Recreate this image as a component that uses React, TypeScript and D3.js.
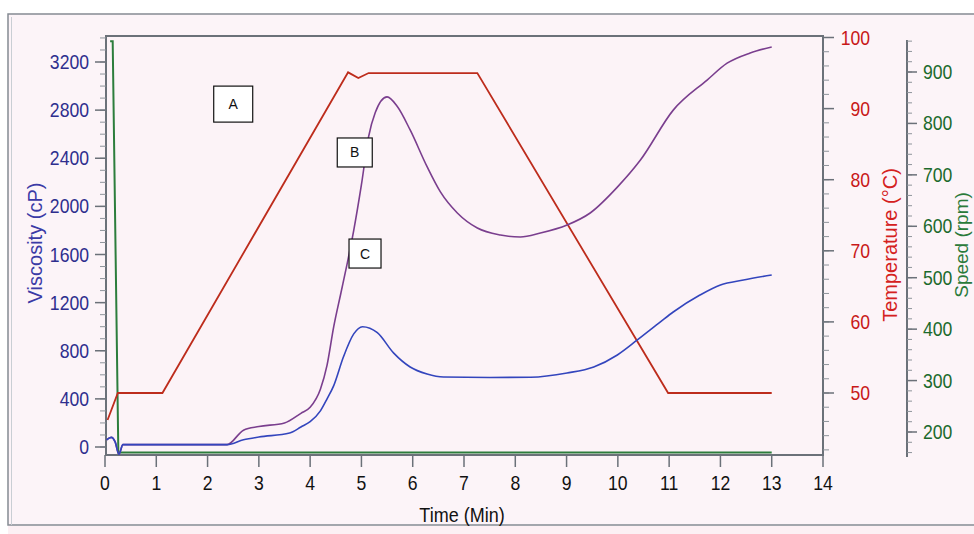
import React from 'react'
import * as d3 from 'd3'

// time axis (min)
const timeTicks = d3.range(0, 15)

// temperature profile (°C)
const tempTime = [0.05, 0.25, 1.12, 4.74, 4.94, 5.14, 7.26, 10.98, 13.0]
const tempValues = [46.2, 50, 50, 95.1, 94.3, 95, 95, 50, 50]

// viscosity curve B (cP)
const viscBTime = [0.03, 0.12, 0.2, 0.27, 0.35, 1.0, 2.0, 2.38, 2.7, 3.0, 3.5, 3.82, 4.0, 4.2, 4.33, 4.46, 4.6, 4.72, 4.85, 5.0, 5.14, 5.27, 5.5, 5.7, 5.95, 6.28, 6.54, 6.87, 7.26, 7.71, 8.1, 8.49, 9.01, 9.46, 9.99, 10.44, 11.08, 11.74, 12.13, 12.58, 13.0]
const viscBValues = [60, 80, 40, -60, 20, 20, 20, 20, 140, 170, 200, 280, 330, 480, 680, 1000, 1280, 1520, 1800, 2180, 2580, 2780, 2910, 2830, 2635, 2330, 2120, 1945, 1820, 1762, 1745, 1778, 1845, 1945, 2160, 2385, 2800, 3050, 3190, 3275, 3325]

// viscosity curve C (cP)
const viscCTime = [0.03, 0.12, 0.2, 0.27, 0.35, 2.0, 2.38, 2.7, 3.0, 3.6, 3.82, 4.0, 4.2, 4.33, 4.46, 4.65, 4.85, 5.02, 5.31, 5.63, 5.95, 6.28, 6.6, 7.5, 8.3, 9.01, 9.53, 9.99, 10.38, 10.83, 11.08, 11.6, 12.0, 12.45, 13.0]
const viscCValues = [60, 80, 40, -60, 20, 20, 20, 60, 83, 116, 166, 210, 300, 400, 510, 750, 940, 1000, 950, 780, 665, 607, 582, 578, 580, 615, 665, 765, 890, 1040, 1122, 1263, 1347, 1388, 1430]

// stirring speed (rpm)
const speedTime = [0.1, 0.15, 0.26, 13.0]
const speedValues = [960, 960, 160, 160]

const viscTicks = [0, 400, 800, 1200, 1600, 2000, 2400, 2800, 3200]
const tempTicks = [50, 60, 70, 80, 90, 100]
const speedTicks = [200, 300, 400, 500, 600, 700, 800, 900]

// annotation boxes (time, viscosity)
const notes = [
    {label: 'A', t: 2.5, v: 2850, w: 39, h: 36},
    {label: 'B', t: 4.87, v: 2448, w: 35, h: 29},
    {label: 'C', t: 5.07, v: 1608, w: 32, h: 29},
]

const W = 974
const H = 534
const plot = {left: 106, top: 36, right: 823, bottom: 455}
const speedAxisX = 907

const font = '"Liberation Sans", Arial, sans-serif'
const axisGray = '#6b7179'

export default function App() {
    const x = d3.scaleLinear().domain([0, 14]).range([105, 823])
    const yVisc = d3.scaleLinear().domain([0, 3200]).range([447, 62])
    const yTemp = d3.scaleLinear().domain([50, 100]).range([393, 37.5])
    const ySpeed = d3.scaleLinear().domain([200, 900]).range([432, 72])

    const inPlot = (y: number) => y >= plot.top - 1 && y <= plot.bottom + 1

    const viscMinor = d3.range(-100, 3500, 100).filter(v => inPlot(yVisc(v)))
    const tempMinor = d3.range(42, 101, 2).filter(v => inPlot(yTemp(v)))
    const speedMinor = d3.range(160, 961, 20).filter(v => ySpeed(v) >= 40 && ySpeed(v) <= 457)

    const curve = (ts: number[], vs: number[], y: d3.ScaleLinear<number, number>, smooth: boolean) => {
        const line = d3.line<number>()
            .x(i => x(ts[i]))
            .y(i => y(vs[i]))
            .curve(smooth ? d3.curveMonotoneX : d3.curveLinear)
        return line(d3.range(ts.length)) || ''
    }

    const tickText = (tx: number, ty: number, s: string, color: string, anchor: string) => (
        <text key={s + tx + ty} transform={`translate(${tx},${ty}) scale(0.88,1)`}
            textAnchor={anchor} fill={color} fontSize={20} fontFamily={font}>{s}</text>
    )

    return (
        <svg width={W} height={H} style={{position: 'absolute', left: 0, top: 0}}>
            <rect x={0} y={0} width={W} height={H} fill="#ffffff" />
            <rect x={8} y={14} width={W + 10} height={511} fill="#fcf4f8" stroke="#858b93" strokeWidth={1.5} />
            <line x1={11.5} y1={17} x2={11.5} y2={525} stroke="#c9ced4" strokeWidth={1} />
            <rect x={8} y={526} width={W} height={8} fill="#fcf0f4" />

            {/* plot frame */}
            <rect x={plot.left} y={plot.top} width={plot.right - plot.left} height={plot.bottom - plot.top}
                fill="#fcf3f7" stroke={axisGray} strokeWidth={2} />

            {/* left axis: viscosity */}
            {viscMinor.map(v => (
                <line key={'vm' + v} x1={plot.left - 6} x2={plot.left} y1={yVisc(v)} y2={yVisc(v)} stroke="#8e949b" strokeWidth={1} />
            ))}
            {viscTicks.map(v => (
                <g key={'vt' + v}>
                    <line x1={plot.left - 11} x2={plot.left} y1={yVisc(v)} y2={yVisc(v)} stroke={axisGray} strokeWidth={1.5} />
                    {tickText(89, yVisc(v) + 7, String(v), '#2e2e8e', 'end')}
                </g>
            ))}
            <text transform="translate(42,243) rotate(-90)" textAnchor="middle" fill="#3a3aa6"
                fontSize={20} fontFamily={font}>Viscosity (cP)</text>

            {/* bottom axis: time */}
            {timeTicks.map(t => (
                <g key={'tt' + t}>
                    <line x1={x(t)} x2={x(t)} y1={plot.bottom} y2={plot.bottom + 12} stroke={axisGray} strokeWidth={1.5} />
                    {tickText(x(t), 490, String(t), '#111111', 'middle')}
                </g>
            ))}
            <text transform="translate(462,522) scale(0.9,1)" textAnchor="middle" fill="#111111"
                fontSize={20} fontFamily={font}>Time  (Min)</text>

            {/* right axis: temperature */}
            {tempMinor.map(v => (
                <line key={'tm' + v} x1={plot.right} x2={plot.right + 6} y1={yTemp(v)} y2={yTemp(v)} stroke="#8e949b" strokeWidth={1} />
            ))}
            {tempTicks.map(v => (
                <g key={'tp' + v}>
                    <line x1={plot.right} x2={plot.right + 11} y1={yTemp(v)} y2={yTemp(v)} stroke={axisGray} strokeWidth={1.5} />
                    {tickText(870, yTemp(v) + 7, String(v), '#c81818', 'end')}
                </g>
            ))}
            <text transform="translate(897,245) rotate(-90)" textAnchor="middle" fill="#d42020"
                fontSize={20} fontFamily={font}>Temperature (°C)</text>

            {/* far right axis: speed */}
            <line x1={speedAxisX} x2={speedAxisX} y1={40} y2={457} stroke={axisGray} strokeWidth={2} />
            {speedMinor.map(v => (
                <line key={'sm' + v} x1={speedAxisX} x2={speedAxisX + 5} y1={ySpeed(v)} y2={ySpeed(v)} stroke="#8e949b" strokeWidth={1} />
            ))}
            {speedTicks.map(v => (
                <g key={'sp' + v}>
                    <line x1={speedAxisX} x2={speedAxisX + 10} y1={ySpeed(v)} y2={ySpeed(v)} stroke={axisGray} strokeWidth={1.5} />
                    {tickText(923, ySpeed(v) + 7, String(v), '#1b6a2c', 'start')}
                </g>
            ))}
            <text transform="translate(968,245) rotate(-90)" textAnchor="middle" fill="#2a7a3a"
                fontSize={19} fontFamily={font}>Speed (rpm)</text>

            {/* series */}
            <path d={curve(speedTime, speedValues, ySpeed, false)} fill="none" stroke="#2c7d3c" strokeWidth={2} />
            <path d={curve(tempTime, tempValues, yTemp, false)} fill="none" stroke="#bd2c1c" strokeWidth={1.8} />
            <path d={curve(viscBTime, viscBValues, yVisc, true)} fill="none" stroke="#7a3e8e" strokeWidth={1.6} />
            <path d={curve(viscCTime, viscCValues, yVisc, true)} fill="none" stroke="#3345bd" strokeWidth={1.6} />

            {/* annotation boxes */}
            {notes.map(n => (
                <g key={n.label} transform={`translate(${x(n.t)},${yVisc(n.v)})`}>
                    <rect x={-n.w / 2} y={-n.h / 2} width={n.w} height={n.h} fill="#ffffff" stroke="#111111" strokeWidth={1.2} />
                    <text y={5} textAnchor="middle" fontSize={14} fontFamily={font} fill="#111111">{n.label}</text>
                </g>
            ))}
        </svg>
    )
}
